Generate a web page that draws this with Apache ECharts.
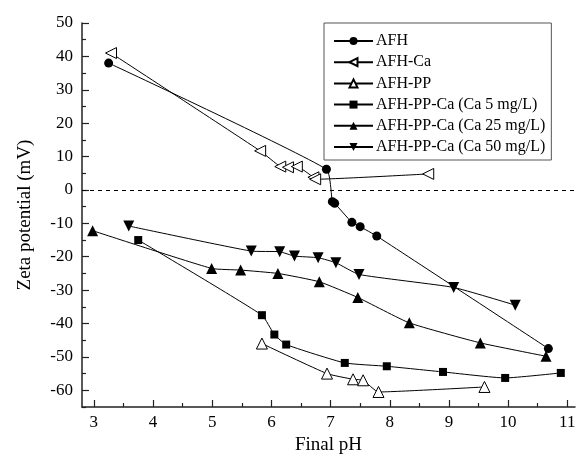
<!DOCTYPE html>
<html>
<head>
<meta charset="utf-8">
<title>Zeta potential</title>
<script src="https://cdn.jsdelivr.net/npm/echarts@6/dist/echarts.min.js"></script>
<style>
  html, body, #main { width: 100%; height: 100%; margin: 0; padding: 0; background: #fff; }
</style>
</head>
<body>
<div id="main"></div>
<script>
// values: [final pH, zeta potential mV]
var afh = [[3.25, 38.0], [6.93, 6.2], [7.03, -3.5], [7.07, -4.0], [7.36, -9.7], [7.50, -11.0], [7.78, -13.8], [10.68, -47.5]];
var afhCa = [[3.29, 41.0], [5.81, 11.7], [6.15, 7.0], [6.28, 6.8], [6.43, 7.0], [6.71, 3.8], [6.74, 3.2], [8.65, 4.8]];
var afhPP = [[5.84, -46.0], [6.94, -55.0], [7.38, -56.7], [7.55, -57.0], [7.81, -60.5], [9.60, -59.0]];
var ca5 = [[3.75, -15.0], [5.84, -37.5], [6.05, -43.3], [6.25, -46.3], [7.24, -51.8], [7.95, -52.8], [8.90, -54.5], [9.95, -56.3], [10.89, -54.8]];
var ca25 = [[2.98, -12.2], [4.99, -23.5], [5.48, -24.0], [6.11, -25.0], [6.81, -27.5], [7.46, -32.2], [8.33, -39.8], [9.53, -45.8], [10.64, -49.8]];
var ca50 = [[3.59, -10.8], [5.66, -18.3], [6.14, -18.5], [6.39, -19.8], [6.79, -20.3], [7.09, -21.8], [7.48, -25.3], [9.08, -29.2], [10.12, -34.5]];

var xMajor = [3, 4, 5, 6, 7, 8, 9, 10, 11];
var xMinor = [3.5, 4.5, 5.5, 6.5, 7.5, 8.5, 9.5, 10.5];
var yMajor = [-60, -50, -40, -30, -20, -10, 0, 10, 20, 30, 40, 50];
var yMinor = [-65, -55, -45, -35, -25, -15, -5, 5, 15, 25, 35, 45];

var font = '"Liberation Serif", "Times New Roman", serif';
var axisColor = '#222';

var chart = echarts.init(document.getElementById('main'));

function mkSeries(name, data, symbol, size, hollow, rotate) {
    return {
        name: name,
        type: 'line',
        data: data,
        smooth: 0.15,
        symbol: symbol,
        symbolSize: size,
        symbolRotate: rotate || 0,
        showAllSymbol: true,
        lineStyle: { color: '#000', width: 1 },
        itemStyle: hollow ? { color: '#fff', borderColor: '#000', borderWidth: 1 } : { color: '#000' },
        emphasis: { disabled: true },
        z: 3
    };
}

var series = [
    mkSeries('AFH', afh, 'circle', 9, false),
    mkSeries('AFH-Ca', afhCa, 'triangle', 11, true, 90),
    mkSeries('AFH-PP', afhPP, 'triangle', 11, true),
    mkSeries('AFH-PP-Ca (Ca 5 mg/L)', ca5, 'rect', 8, false),
    mkSeries('AFH-PP-Ca (Ca 25 mg/L)', ca25, 'triangle', 11, false),
    mkSeries('AFH-PP-Ca (Ca 50 mg/L)', ca50, 'triangle', 11, false, 180)
];
series[0].markLine = {
    silent: true,
    symbol: ['none', 'none'],
    label: { show: false },
    lineStyle: { color: '#000', type: [4, 4], width: 1 },
    data: [{ yAxis: 0 }]
};

chart.setOption({
    backgroundColor: '#fff',
    animation: false,
    grid: { left: 82, right: 4, top: 23, bottom: 53 },
    legend: {
        orient: 'vertical',
        left: 324,
        top: 23,
        padding: [10, 6, 5, 9],
        itemWidth: 39,
        itemHeight: 10,
        itemGap: 5.2,
        borderColor: '#555',
        borderWidth: 1,
        backgroundColor: '#fff',
        textStyle: { fontFamily: font, fontSize: 16, lineHeight: 16, color: '#000', padding: [0, 0, 0, -2] },
        data: series.map(function (s) { return s.name; })
    },
    xAxis: [{
        type: 'value',
        min: 2.8,
        max: 11.13,
        name: 'Final pH',
        nameLocation: 'middle',
        nameGap: 27,
        nameTextStyle: { fontFamily: font, fontSize: 19, color: '#000' },
        axisLine: { onZero: false, lineStyle: { color: axisColor, width: 1.5 } },
        axisTick: { inside: true, length: 7, customValues: xMajor, lineStyle: { color: axisColor, width: 1.2 } },
        axisLabel: { customValues: xMajor, fontFamily: font, fontSize: 17, color: '#000', margin: 7 },
        splitLine: { show: false }
    }, {
        type: 'value',
        min: 2.8,
        max: 11.13,
        position: 'bottom',
        axisLine: { show: false, onZero: false },
        axisTick: { inside: true, length: 4, customValues: xMinor, lineStyle: { color: axisColor, width: 1.2 } },
        axisLabel: { show: false },
        splitLine: { show: false }
    }],
    yAxis: [{
        type: 'value',
        min: -65,
        max: 50,
        name: 'Zeta potential (mV)',
        nameLocation: 'middle',
        nameGap: 47,
        nameTextStyle: { fontFamily: font, fontSize: 19, color: '#000' },
        axisLine: { show: true, onZero: false, lineStyle: { color: axisColor, width: 1.5 } },
        axisTick: { show: true, inside: true, length: 7, customValues: yMajor, lineStyle: { color: axisColor, width: 1.2 } },
        axisLabel: { customValues: yMajor, fontFamily: font, fontSize: 17, color: '#000', margin: 9 },
        splitLine: { show: false }
    }, {
        type: 'value',
        min: -65,
        max: 50,
        position: 'left',
        axisLine: { show: false, onZero: false },
        axisTick: { show: true, inside: true, length: 4, customValues: yMinor, lineStyle: { color: axisColor, width: 1.2 } },
        axisLabel: { show: false },
        splitLine: { show: false }
    }],
    series: series
});
</script>
</body>
</html>
